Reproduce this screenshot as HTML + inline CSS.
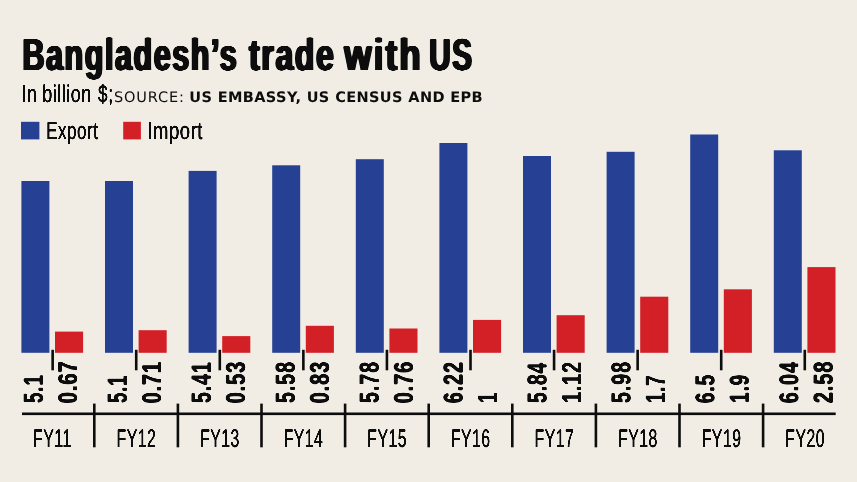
<!DOCTYPE html>
<html lang="en"><head><meta charset="utf-8"><title>Bangladesh’s trade with US</title>
<style>html,body{margin:0;padding:0;background:#f1ede4}svg{display:block}text{white-space:pre}</style>
</head><body>
<svg width="857" height="482" viewBox="0 0 857 482" text-rendering="geometricPrecision">
<defs>
<filter id="fa" x="-10%" y="-30%" width="120%" height="160%" color-interpolation-filters="sRGB"><feGaussianBlur stdDeviation="1.7 0"/><feComponentTransfer><feFuncA type="linear" slope="4.5" intercept="-0.31"/></feComponentTransfer></filter>
<filter id="fb" x="-10%" y="-30%" width="120%" height="160%" color-interpolation-filters="sRGB"><feGaussianBlur stdDeviation="0.75 0"/><feComponentTransfer><feFuncA type="linear" slope="2.6" intercept="-0.2"/></feComponentTransfer></filter>
<filter id="fc" x="-10%" y="-30%" width="120%" height="160%" color-interpolation-filters="sRGB"><feGaussianBlur stdDeviation="0.95 0"/><feComponentTransfer><feFuncA type="linear" slope="3" intercept="-0.3"/></feComponentTransfer></filter>
<filter id="fd" x="-10%" y="-30%" width="120%" height="160%" color-interpolation-filters="sRGB"><feGaussianBlur stdDeviation="1.35 0"/><feComponentTransfer><feFuncA type="linear" slope="4.5" intercept="-0.31"/></feComponentTransfer></filter>
</defs>
<rect width="857" height="482" fill="#f1ede4"/>
<rect x="21.4" y="181" width="28" height="171.8" fill="#264193"/>
<rect x="55" y="331.6" width="28.1" height="21.2" fill="#d32027"/>
<rect x="105" y="181" width="28" height="171.8" fill="#264193"/>
<rect x="138.6" y="330.2" width="28.1" height="22.6" fill="#d32027"/>
<rect x="188.6" y="170.9" width="28" height="181.9" fill="#264193"/>
<rect x="222.2" y="336.1" width="28.1" height="16.7" fill="#d32027"/>
<rect x="272.2" y="165.3" width="28" height="187.5" fill="#264193"/>
<rect x="305.8" y="325.8" width="28.1" height="27" fill="#d32027"/>
<rect x="355.8" y="159.2" width="28" height="193.6" fill="#264193"/>
<rect x="389.4" y="328.5" width="28.1" height="24.3" fill="#d32027"/>
<rect x="439.4" y="143" width="28" height="209.8" fill="#264193"/>
<rect x="473" y="319.9" width="28.1" height="32.9" fill="#d32027"/>
<rect x="523" y="156" width="28" height="196.8" fill="#264193"/>
<rect x="556.6" y="315.2" width="28.1" height="37.6" fill="#d32027"/>
<rect x="606.6" y="151.8" width="28" height="201" fill="#264193"/>
<rect x="640.2" y="296.7" width="28.1" height="56.1" fill="#d32027"/>
<rect x="690.2" y="134.5" width="28" height="218.3" fill="#264193"/>
<rect x="723.8" y="289.3" width="28.1" height="63.5" fill="#d32027"/>
<rect x="773.8" y="150.3" width="28" height="202.5" fill="#264193"/>
<rect x="807.4" y="267.1" width="28.1" height="85.7" fill="#d32027"/>
<rect x="21" y="121.8" width="18.4" height="17.6" fill="#264193"/>
<rect x="123.2" y="121.8" width="17.7" height="17.6" fill="#d32027"/>
<rect x="51.35" y="349.8" width="2.6" height="20.5" fill="#0d0d0d"/>
<rect x="134.92" y="349.8" width="2.6" height="20.5" fill="#0d0d0d"/>
<rect x="218.49" y="349.8" width="2.6" height="20.5" fill="#0d0d0d"/>
<rect x="302.06" y="349.8" width="2.6" height="20.5" fill="#0d0d0d"/>
<rect x="385.63" y="349.8" width="2.6" height="20.5" fill="#0d0d0d"/>
<rect x="469.2" y="349.8" width="2.6" height="20.5" fill="#0d0d0d"/>
<rect x="552.77" y="349.8" width="2.6" height="20.5" fill="#0d0d0d"/>
<rect x="636.34" y="349.8" width="2.6" height="20.5" fill="#0d0d0d"/>
<rect x="719.91" y="349.8" width="2.6" height="20.5" fill="#0d0d0d"/>
<rect x="803.48" y="349.8" width="2.6" height="20.5" fill="#0d0d0d"/>
<rect x="22" y="412.5" width="813.7" height="2.6" fill="#0d0d0d"/>
<rect x="93" y="403.6" width="2.6" height="43.7" fill="#0d0d0d"/>
<rect x="176.6" y="403.6" width="2.6" height="43.7" fill="#0d0d0d"/>
<rect x="260.2" y="403.6" width="2.6" height="43.7" fill="#0d0d0d"/>
<rect x="343.8" y="403.6" width="2.6" height="43.7" fill="#0d0d0d"/>
<rect x="427.4" y="403.6" width="2.6" height="43.7" fill="#0d0d0d"/>
<rect x="511" y="403.6" width="2.6" height="43.7" fill="#0d0d0d"/>
<rect x="594.6" y="403.6" width="2.6" height="43.7" fill="#0d0d0d"/>
<rect x="678.2" y="403.6" width="2.6" height="43.7" fill="#0d0d0d"/>
<rect x="761.8" y="403.6" width="2.6" height="43.7" fill="#0d0d0d"/>
<text filter="url(#fa)" transform="translate(22.49,69.6) scale(0.6844,1)" font-family="'Liberation Sans', Arial, Helvetica, sans-serif" font-weight="bold" font-size="44.65" letter-spacing="2.23" fill="#0d0d0d">Bangladesh’s</text>
<text filter="url(#fa)" transform="translate(249.05,69.6) scale(0.7183,1)" font-family="'Liberation Sans', Arial, Helvetica, sans-serif" font-weight="bold" font-size="44.65" letter-spacing="2.23" fill="#0d0d0d">trade</text>
<text filter="url(#fd)" transform="translate(344.19,69.6) scale(0.7870,1)" font-family="'Liberation Sans', Arial, Helvetica, sans-serif" font-weight="bold" font-size="44.65" letter-spacing="2.68" fill="#0d0d0d">with</text>
<text filter="url(#fa)" transform="translate(429.37,69.6) scale(0.6635,1)" font-family="'Liberation Sans', Arial, Helvetica, sans-serif" font-weight="bold" font-size="44.65" letter-spacing="2.23" fill="#0d0d0d">US</text>
<text filter="url(#fb)" transform="translate(21.87,101.5) scale(0.7041,1)" font-family="'Liberation Sans', Arial, Helvetica, sans-serif" font-weight="normal" font-size="24.29" letter-spacing="0.73" fill="#0d0d0d">In</text>
<text filter="url(#fb)" transform="translate(42.29,101.5) scale(0.7373,1)" font-family="'Liberation Sans', Arial, Helvetica, sans-serif" font-weight="normal" font-size="24.29" letter-spacing="0.73" fill="#0d0d0d">billion</text>
<text filter="url(#fb)" transform="translate(98.08,101.5) scale(0.7073,1)" font-family="'Liberation Sans', Arial, Helvetica, sans-serif" font-weight="normal" font-size="24.29" letter-spacing="0.73" fill="#0d0d0d">$;</text>
<text transform="translate(114.06,101.85)" font-family="'DejaVu Sans', Verdana, sans-serif" font-weight="normal" font-size="14.52" letter-spacing="0.83" fill="#0d0d0d">SOURCE:</text>
<text transform="translate(189.26,101.85)" font-family="'DejaVu Sans', Verdana, sans-serif" font-weight="bold" font-size="14.52" letter-spacing="0.38" fill="#0d0d0d">US EMBASSY, US CENSUS AND EPB</text>
<text filter="url(#fb)" transform="translate(46.25,138.8) scale(0.6950,1)" font-family="'Liberation Sans', Arial, Helvetica, sans-serif" font-weight="normal" font-size="24.44" letter-spacing="0.73" fill="#0d0d0d">Export</text>
<text filter="url(#fb)" transform="translate(147.24,138.8) scale(0.7581,1)" font-family="'Liberation Sans', Arial, Helvetica, sans-serif" font-weight="normal" font-size="24.44" letter-spacing="0.73" fill="#0d0d0d">Import</text>
<text filter="url(#fb)" transform="translate(32.93,446.8) scale(0.6268,1)" font-family="'Liberation Sans', Arial, Helvetica, sans-serif" font-weight="normal" font-size="25.45" letter-spacing="0.76" fill="#0d0d0d">FY11</text>
<text filter="url(#fb)" transform="translate(116.54,446.8) scale(0.6225,1)" font-family="'Liberation Sans', Arial, Helvetica, sans-serif" font-weight="normal" font-size="25.45" letter-spacing="0.76" fill="#0d0d0d">FY12</text>
<text filter="url(#fb)" transform="translate(200.15,446.8) scale(0.6206,1)" font-family="'Liberation Sans', Arial, Helvetica, sans-serif" font-weight="normal" font-size="25.45" letter-spacing="0.76" fill="#0d0d0d">FY13</text>
<text filter="url(#fb)" transform="translate(283.76,446.8) scale(0.6166,1)" font-family="'Liberation Sans', Arial, Helvetica, sans-serif" font-weight="normal" font-size="25.45" letter-spacing="0.76" fill="#0d0d0d">FY14</text>
<text filter="url(#fb)" transform="translate(367.35,446.8) scale(0.6199,1)" font-family="'Liberation Sans', Arial, Helvetica, sans-serif" font-weight="normal" font-size="25.45" letter-spacing="0.76" fill="#0d0d0d">FY15</text>
<text filter="url(#fb)" transform="translate(450.95,446.8) scale(0.6206,1)" font-family="'Liberation Sans', Arial, Helvetica, sans-serif" font-weight="normal" font-size="25.45" letter-spacing="0.76" fill="#0d0d0d">FY16</text>
<text filter="url(#fb)" transform="translate(534.54,446.8) scale(0.6225,1)" font-family="'Liberation Sans', Arial, Helvetica, sans-serif" font-weight="normal" font-size="25.45" letter-spacing="0.76" fill="#0d0d0d">FY17</text>
<text filter="url(#fb)" transform="translate(618.15,446.8) scale(0.6206,1)" font-family="'Liberation Sans', Arial, Helvetica, sans-serif" font-weight="normal" font-size="25.45" letter-spacing="0.76" fill="#0d0d0d">FY18</text>
<text filter="url(#fb)" transform="translate(701.75,446.8) scale(0.6212,1)" font-family="'Liberation Sans', Arial, Helvetica, sans-serif" font-weight="normal" font-size="25.45" letter-spacing="0.76" fill="#0d0d0d">FY19</text>
<text filter="url(#fb)" transform="translate(785.35,446.8) scale(0.6192,1)" font-family="'Liberation Sans', Arial, Helvetica, sans-serif" font-weight="normal" font-size="25.45" letter-spacing="0.76" fill="#0d0d0d">FY20</text>
<text filter="url(#fc)" transform="translate(42.73,403.12) rotate(-90) scale(0.6916,1)" font-family="'Liberation Sans', Arial, Helvetica, sans-serif" font-weight="bold" font-size="27.24" letter-spacing="1.23" fill="#0d0d0d">5.1</text>
<text filter="url(#fc)" transform="translate(76.93,403.36) rotate(-90) scale(0.7513,1)" font-family="'Liberation Sans', Arial, Helvetica, sans-serif" font-weight="bold" font-size="26.86" letter-spacing="1.21" fill="#0d0d0d">0.67</text>
<text filter="url(#fc)" transform="translate(126.67,403.11) rotate(-90) scale(0.6865,1)" font-family="'Liberation Sans', Arial, Helvetica, sans-serif" font-weight="bold" font-size="27.24" letter-spacing="1.23" fill="#0d0d0d">5.1</text>
<text filter="url(#fc)" transform="translate(160.88,403.34) rotate(-90) scale(0.7364,1)" font-family="'Liberation Sans', Arial, Helvetica, sans-serif" font-weight="bold" font-size="26.86" letter-spacing="1.21" fill="#0d0d0d">0.71</text>
<text filter="url(#fc)" transform="translate(210.61,403.14) rotate(-90) scale(0.7224,1)" font-family="'Liberation Sans', Arial, Helvetica, sans-serif" font-weight="bold" font-size="27.24" letter-spacing="1.23" fill="#0d0d0d">5.41</text>
<text filter="url(#fc)" transform="translate(244.77,403.35) rotate(-90) scale(0.7455,1)" font-family="'Liberation Sans', Arial, Helvetica, sans-serif" font-weight="bold" font-size="26.76" letter-spacing="1.2" fill="#0d0d0d">0.53</text>
<text filter="url(#fc)" transform="translate(294.55,403.14) rotate(-90) scale(0.7374,1)" font-family="'Liberation Sans', Arial, Helvetica, sans-serif" font-weight="bold" font-size="26.86" letter-spacing="1.21" fill="#0d0d0d">5.58</text>
<text filter="url(#fc)" transform="translate(328.72,403.35) rotate(-90) scale(0.7455,1)" font-family="'Liberation Sans', Arial, Helvetica, sans-serif" font-weight="bold" font-size="26.76" letter-spacing="1.2" fill="#0d0d0d">0.83</text>
<text filter="url(#fc)" transform="translate(378.49,403.14) rotate(-90) scale(0.7374,1)" font-family="'Liberation Sans', Arial, Helvetica, sans-serif" font-weight="bold" font-size="26.86" letter-spacing="1.21" fill="#0d0d0d">5.78</text>
<text filter="url(#fc)" transform="translate(412.73,403.35) rotate(-90) scale(0.7429,1)" font-family="'Liberation Sans', Arial, Helvetica, sans-serif" font-weight="bold" font-size="26.86" letter-spacing="1.21" fill="#0d0d0d">0.76</text>
<text filter="url(#fc)" transform="translate(462.43,403.29) rotate(-90) scale(0.7373,1)" font-family="'Liberation Sans', Arial, Helvetica, sans-serif" font-weight="bold" font-size="26.86" letter-spacing="1.21" fill="#0d0d0d">6.22</text>
<text filter="url(#fc)" transform="translate(496.95,402.77) rotate(-90) scale(0.6459,1)" font-family="'Liberation Sans', Arial, Helvetica, sans-serif" font-weight="bold" font-size="27.64" letter-spacing="1.24" fill="#0d0d0d">1</text>
<text filter="url(#fc)" transform="translate(546.37,403.13) rotate(-90) scale(0.7229,1)" font-family="'Liberation Sans', Arial, Helvetica, sans-serif" font-weight="bold" font-size="26.86" letter-spacing="1.21" fill="#0d0d0d">5.84</text>
<text filter="url(#fc)" transform="translate(580.9,402.87) rotate(-90) scale(0.7194,1)" font-family="'Liberation Sans', Arial, Helvetica, sans-serif" font-weight="bold" font-size="27.24" letter-spacing="1.23" fill="#0d0d0d">1.12</text>
<text filter="url(#fc)" transform="translate(630.31,403.14) rotate(-90) scale(0.7374,1)" font-family="'Liberation Sans', Arial, Helvetica, sans-serif" font-weight="bold" font-size="26.86" letter-spacing="1.21" fill="#0d0d0d">5.98</text>
<text filter="url(#fc)" transform="translate(664.85,402.8) rotate(-90) scale(0.6658,1)" font-family="'Liberation Sans', Arial, Helvetica, sans-serif" font-weight="bold" font-size="27.64" letter-spacing="1.24" fill="#0d0d0d">1.7</text>
<text filter="url(#fc)" transform="translate(714.25,403.27) rotate(-90) scale(0.7158,1)" font-family="'Liberation Sans', Arial, Helvetica, sans-serif" font-weight="bold" font-size="26.86" letter-spacing="1.21" fill="#0d0d0d">6.5</text>
<text filter="url(#fc)" transform="translate(748.53,402.84) rotate(-90) scale(0.7084,1)" font-family="'Liberation Sans', Arial, Helvetica, sans-serif" font-weight="bold" font-size="26.86" letter-spacing="1.21" fill="#0d0d0d">1.9</text>
<text filter="url(#fc)" transform="translate(798.19,403.29) rotate(-90) scale(0.7383,1)" font-family="'Liberation Sans', Arial, Helvetica, sans-serif" font-weight="bold" font-size="26.86" letter-spacing="1.21" fill="#0d0d0d">6.04</text>
<text filter="url(#fc)" transform="translate(832.48,403.25) rotate(-90) scale(0.7466,1)" font-family="'Liberation Sans', Arial, Helvetica, sans-serif" font-weight="bold" font-size="26.86" letter-spacing="1.21" fill="#0d0d0d">2.58</text>
</svg>
</body></html>
